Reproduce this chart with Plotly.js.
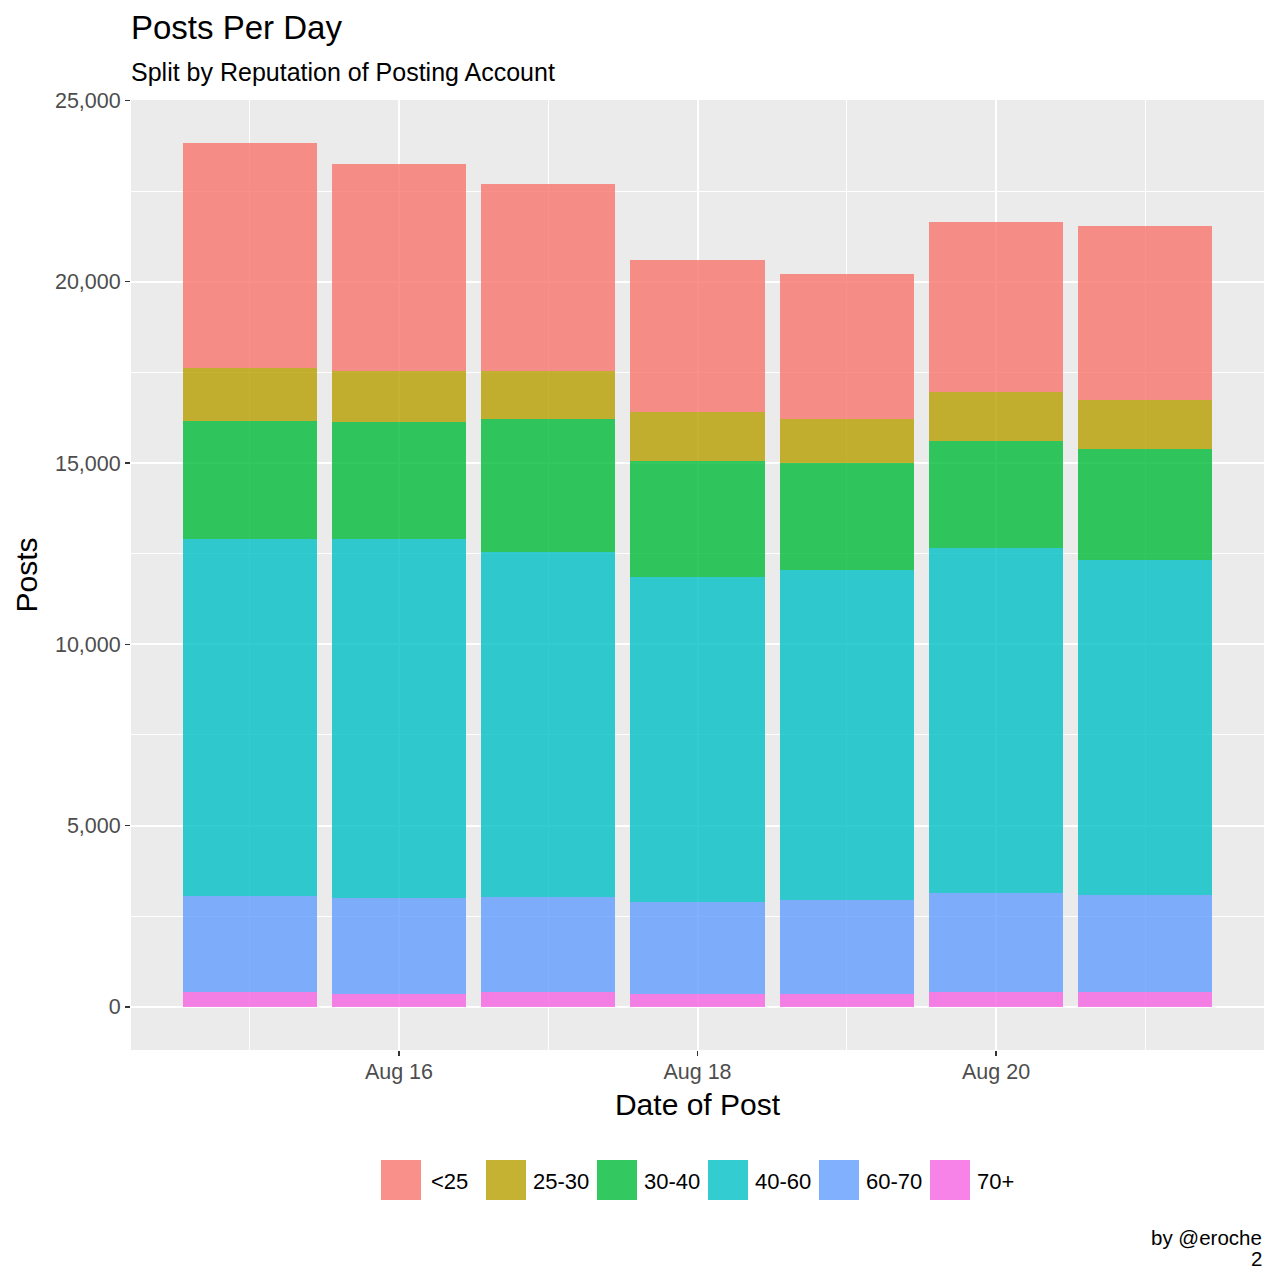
<!DOCTYPE html>
<html>
<head>
<meta charset="utf-8">
<script src="https://cdn.plot.ly/plotly-3.0.1.min.js"></script>
<style>html,body{margin:0;padding:0;background:#fff;}#chart{width:1279px;height:1280px;}</style>
</head>
<body>
<div id="chart"></div>
<script>
// ---- data ----
const dates = ['2017-08-15','2017-08-16','2017-08-17','2017-08-18','2017-08-19','2017-08-20','2017-08-21'];
const groups = ['<25','25-30','30-40','40-60','60-70','70+'];
const rep_lt25  = [6194, 5709, 5137, 4191, 3990, 4688, 4807];
const rep_25_30 = [1473, 1398, 1343, 1336, 1203, 1351, 1332];
const rep_30_40 = [3262, 3235, 3649, 3215, 2970, 2951, 3080];
const rep_40_60 = [9837, 9892, 9526, 8955, 9101, 9506, 9231];
const rep_60_70 = [2656, 2648, 2628, 2537, 2584, 2731, 2675];
const rep_70p   = [ 400,  353,  400,  353,  353,  408,  408];
const xTickVals = ['2017-08-16','2017-08-18','2017-08-20'];
const xTickText = ['Aug 16','Aug 18','Aug 20'];
const yTickVals = [0, 5000, 10000, 15000, 20000, 25000];
const yTickText = ['0','5,000','10,000','15,000','20,000','25,000'];

// ---- style ----
const colors = ['rgba(248,118,109,0.8)','rgba(183,159,0,0.8)','rgba(0,186,56,0.8)',
                'rgba(0,191,196,0.8)','rgba(97,156,255,0.8)','rgba(245,100,227,0.8)'];
const series = [rep_lt25, rep_25_30, rep_30_40, rep_40_60, rep_60_70, rep_70p];
const FONT = 'Liberation Sans, Arial, Helvetica, sans-serif';
const W = 1279, H = 1280;
const L = 131, R = 15, T = 100, B = 230;
const pw = W - L - R, ph = H - T - B;
const px2x = p => (p - L) / pw;
const py2y = p => (H - B - p) / ph;

// bottom stacked first: 70+ ... <25
const traces = [];
for (let i = groups.length - 1; i >= 0; i--) {
  traces.push({
    type: 'bar', name: groups[i], x: dates, y: series[i],
    width: 0.9 * 86400000,
    marker: {color: colors[i], line: {width: 0}},
    hovertemplate: '%{x|%b %d}: %{y}<extra>' + groups[i] + '</extra>'
  });
}

// custom ggplot-like legend (keys 40x40)
const keyLeft = [381, 486, 597, 708, 819, 930];
const labelGap = [48, 45, 45, 45, 45, 45];
const shapes = [], annotations = [];
groups.forEach((g, i) => {
  shapes.push({type: 'rect', xref: 'paper', yref: 'paper',
    x0: px2x(keyLeft[i]), x1: px2x(keyLeft[i] + 40), y0: py2y(1200), y1: py2y(1160),
    fillcolor: colors[i], line: {width: 0}});
  annotations.push({xref: 'paper', yref: 'paper', x: px2x(keyLeft[i] + labelGap[i]), y: py2y(1181),
    xanchor: 'left', yanchor: 'middle', showarrow: false,
    text: g.replace('<', '&lt;'), font: {family: FONT, size: 22, color: '#000'}});
});
// subtitle
annotations.push({xref: 'paper', yref: 'paper', x: px2x(129), y: py2y(72), xanchor: 'left', yanchor: 'middle',
  showarrow: false, text: 'Split by Reputation of Posting Account', font: {family: FONT, size: 25, color: '#000'}});
// caption
annotations.push({xref: 'paper', yref: 'paper', x: 1, y: py2y(1237), xanchor: 'right', yanchor: 'middle',
  showarrow: false, text: 'by @eroche', font: {family: FONT, size: 20.5, color: '#000'}});
annotations.push({xref: 'paper', yref: 'paper', x: 1, y: py2y(1258), xanchor: 'right', yanchor: 'middle',
  showarrow: false, text: '2', font: {family: FONT, size: 20.5, color: '#000'}});

const layout = {
  width: W, height: H,
  margin: {l: L, r: R, t: T, b: B, pad: 0},
  paper_bgcolor: '#ffffff', plot_bgcolor: '#EBEBEB',
  barmode: 'stack', bargap: 0,
  showlegend: false,
  font: {family: FONT, color: '#000'},
  title: {
    text: 'Posts Per Day', xref: 'paper', x: 0, xanchor: 'left',
    yref: 'container', y: 1 - 16 / H, yanchor: 'top',
    font: {family: FONT, size: 33, color: '#000'}
  },
  xaxis: {
    type: 'date',
    range: ['2017-08-14 04:55', '2017-08-21 19:05'],
    tickmode: 'array', tickvals: xTickVals, ticktext: xTickText,
    ticks: 'outside', ticklen: 5, tickwidth: 1.5, tickcolor: '#333333',
    ticklabelstandoff: -3,
    tickfont: {family: FONT, size: 21.5, color: '#4D4D4D'},
    showgrid: true, gridcolor: '#FFFFFF', gridwidth: 2,
    minor: {tickmode: 'array', tickvals: ['2017-08-15','2017-08-17','2017-08-19','2017-08-21'],
            showgrid: true, gridcolor: '#FFFFFF', gridwidth: 1, ticks: ''},
    showline: false, zeroline: false,
    title: {text: 'Date of Post', font: {family: FONT, size: 30, color: '#000'}, standoff: 11}
  },
  yaxis: {
    range: [-1191, 25013],
    tickmode: 'array', tickvals: yTickVals, ticktext: yTickText,
    ticks: 'outside', ticklen: 5, tickwidth: 1.5, tickcolor: '#333333',
    tickfont: {family: FONT, size: 21.5, color: '#4D4D4D'},
    showgrid: true, gridcolor: '#FFFFFF', gridwidth: 2,
    minor: {tickmode: 'array', tickvals: [2500, 7500, 12500, 17500, 22500],
            showgrid: true, gridcolor: '#FFFFFF', gridwidth: 1, ticks: ''},
    showline: false, zeroline: false,
    title: {text: 'Posts', font: {family: FONT, size: 30, color: '#000'}, standoff: 8}
  },
  shapes: shapes,
  annotations: annotations
};

Plotly.newPlot('chart', traces, layout, {displayModeBar: false, staticPlot: true});
</script>
</body>
</html>
